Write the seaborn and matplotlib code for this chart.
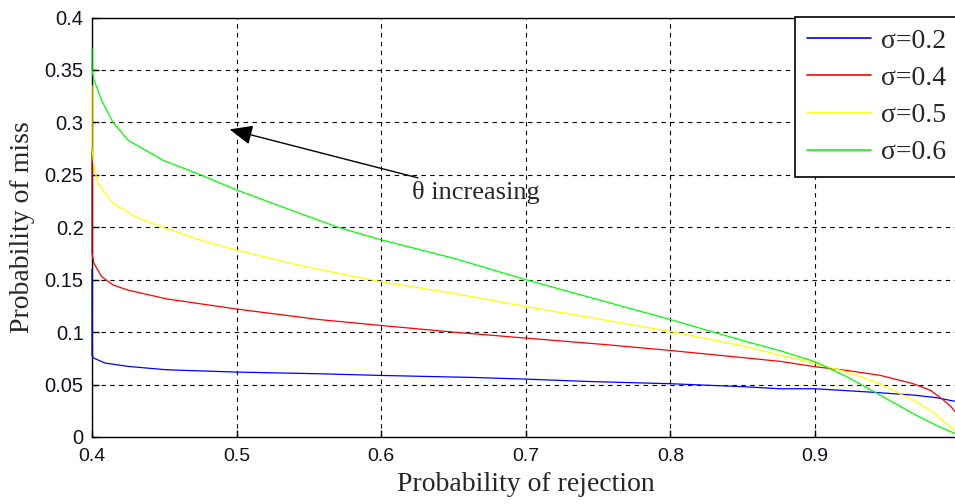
import matplotlib
matplotlib.use("Agg")
import matplotlib.pyplot as plt
import seaborn as sns
import pandas as pd

# ---- data ----
labels = ["σ=0.2", "σ=0.4", "σ=0.5", "σ=0.6"]
colors = ["#0000ff", "#ff0000", "#ffff00", "#00ff00"]

blue_x = [0.4, 0.4, 0.4013, 0.409, 0.425, 0.4516, 0.5, 0.557, 0.6, 0.663, 0.7, 0.742,
          0.8, 0.85, 0.876, 0.9, 0.936, 0.968, 0.984, 0.997]
blue_y = [0.16, 0.0775, 0.0752, 0.0705, 0.0673, 0.0641, 0.0619, 0.0603, 0.0587, 0.0568,
          0.0552, 0.053, 0.0508, 0.048, 0.046, 0.046, 0.043, 0.040, 0.0375, 0.034]

red_x = [0.4, 0.4, 0.4013, 0.4066, 0.4145, 0.425, 0.4516, 0.5, 0.557, 0.6, 0.65, 0.7,
         0.756, 0.8, 0.85, 0.876, 0.9, 0.922, 0.945, 0.968, 0.98, 0.989, 0.994, 0.997]
red_y = [0.275, 0.175, 0.1657, 0.153, 0.145, 0.140, 0.1317, 0.122, 0.112, 0.1063, 0.1,
         0.0943, 0.088, 0.0825, 0.0757, 0.0721, 0.067, 0.0635, 0.0588, 0.0508, 0.0444,
         0.035, 0.029, 0.024]

yellow_x = [0.4, 0.4, 0.4013, 0.404, 0.4145, 0.430, 0.449, 0.478, 0.5, 0.544, 0.6, 0.65,
            0.7, 0.753, 0.8, 0.85, 0.876, 0.9, 0.922, 0.945, 0.968, 0.98, 0.991, 0.997]
yellow_y = [0.335, 0.275, 0.258, 0.242, 0.223, 0.210, 0.20, 0.1865, 0.1784, 0.1635, 0.148,
            0.137, 0.1244, 0.112, 0.1006, 0.087, 0.078, 0.0702, 0.062, 0.0508, 0.035,
            0.0254, 0.0127, 0.0063]

green_x = [0.4, 0.4, 0.4015, 0.4066, 0.4145, 0.425, 0.449, 0.475, 0.5, 0.531, 0.570, 0.6,
           0.65, 0.7, 0.742, 0.8, 0.85, 0.876, 0.9, 0.922, 0.945, 0.968, 0.984, 0.997]
green_y = [0.37, 0.35, 0.34, 0.321, 0.30, 0.283, 0.264, 0.25, 0.2356, 0.2197, 0.20, 0.188,
           0.1705, 0.15, 0.134, 0.112, 0.092, 0.0822, 0.0718, 0.0575, 0.040, 0.0222,
           0.011, 0.0032]

xticks = [0.4, 0.5, 0.6, 0.7, 0.8, 0.9]
xticklabels = ["0.4", "0.5", "0.6", "0.7", "0.8", "0.9"]
yticks = [0, 0.05, 0.1, 0.15, 0.2, 0.25, 0.3, 0.35, 0.4]
yticklabels = ["0", "0.05", "0.1", "0.15", "0.2", "0.25", "0.3", "0.35", "0.4"]

xs = [blue_x, red_x, yellow_x, green_x]
ys = [blue_y, red_y, yellow_y, green_y]

# ---- drawing ----
sns.set_theme(style="white")
plt.rcParams["font.family"] = ["Liberation Serif", "DejaVu Serif"]

fig = plt.figure(figsize=(9.55, 5.04), dpi=100)
ax = fig.add_axes([92 / 955, 67 / 504, (959.6 - 92) / 955, (437 - 17.5) / 504])

for xv, yv, lab, col in zip(xs, ys, labels, colors):
    df = pd.DataFrame({"x": xv, "y": yv})
    sns.lineplot(data=df, x="x", y="y", sort=False, estimator=None, color=col,
                 linewidth=0.9, label=lab, ax=ax, legend=False)
for ln in ax.get_lines():
    ln.set_clip_on(False)
    ln.set_zorder(3)

ax.set_xlim(0.4, 1.0)
ax.set_ylim(0, 0.4)
ax.set_xticks(xticks)
ax.set_xticklabels(xticklabels, family=["Liberation Sans"], fontsize=14)
ax.set_yticks(yticks)
ax.set_yticklabels(yticklabels, family=["Liberation Sans"], fontsize=14.5)
ax.tick_params(axis="both", direction="in", length=5, width=1, color="black",
               labelcolor="#111122", bottom=True, left=True)
ax.tick_params(axis="x", pad=8)
ax.tick_params(axis="y", pad=6)

ax.grid(True, color="black", linestyle=(0, (4, 4)), linewidth=0.8)
for s in ["left", "bottom", "top"]:
    ax.spines[s].set_color("black")
    ax.spines[s].set_linewidth(1.0)
    ax.spines[s].set_zorder(2.5)
ax.spines["right"].set_visible(False)

ax.set_xlabel("Probability of rejection", fontsize=20, labelpad=5)
ax.set_ylabel("Probability of miss", fontsize=20, labelpad=7)

ax.annotate("θ increasing", xy=(0.4952, 0.2933), xytext=(0.621, 0.233),
            textcoords="data", fontsize=19, va="center", ha="left",
            arrowprops=dict(arrowstyle="-|>,head_length=0.7,head_width=0.3",
                            color="black", lw=1.0,
                            mutation_scale=20, shrinkA=0, shrinkB=0))

handles, lbls = ax.get_legend_handles_labels()
leg = fig.legend(handles, lbls, loc="upper left",
                 bbox_to_anchor=(795 / 955, 1 - 17 / 504), bbox_transform=fig.transFigure,
                 fontsize=20, frameon=True, fancybox=False, framealpha=1,
                 edgecolor="black", borderpad=0.42, handlelength=2.3,
                 handletextpad=0.36, labelspacing=0.42, borderaxespad=0)
leg.get_frame().set_linewidth(1.2)
for h in leg.get_lines():
    h.set_linewidth(1.2)

fig.savefig("out.png", dpi=100)
